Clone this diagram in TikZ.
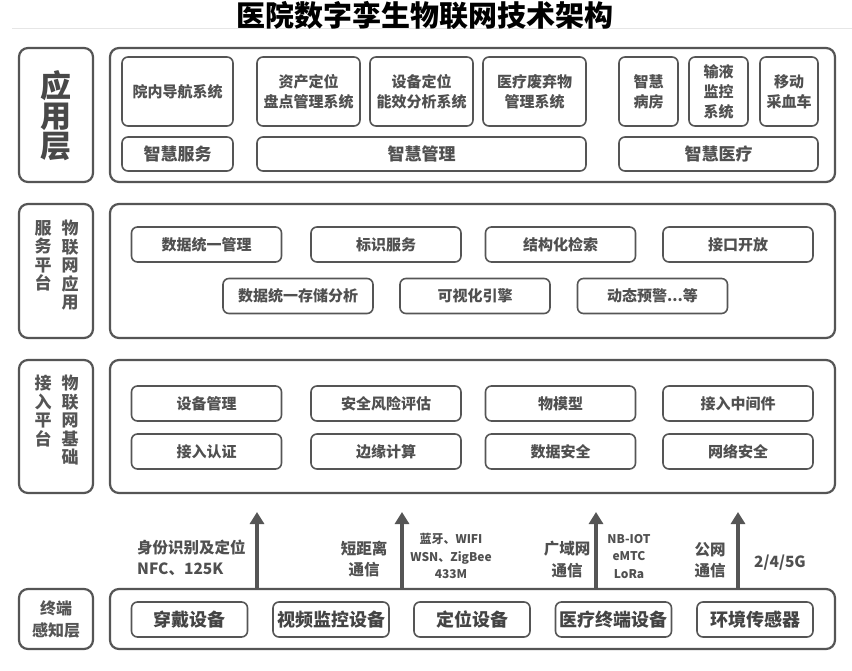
\documentclass[tikz,border=0pt]{standalone}
\usepackage{fontspec}
\setmainfont{Noto Sans CJK SC}
\usetikzlibrary{arrows.meta}
\definecolor{bc}{HTML}{555555}
\definecolor{tc}{HTML}{505050}
\definecolor{lc}{HTML}{E6E6E6}
\newcommand\fs[1]{\fontsize{#1}{#1}\selectfont}
\begin{document}
\begin{tikzpicture}[x=1pt,y=-1pt,
  outerbox/.style={draw=bc,line width=2.2pt,rounded corners=9pt,inner sep=0pt},
  labbox/.style={outerbox,text=bc,align=center},
  innerbox/.style={draw=bc,line width=1.6pt,rounded corners=6pt,inner sep=0pt,text=tc,align=center,
     font=\bfseries\fontsize{15}{20}\selectfont},
  apptop/.style={innerbox,minimum height=69pt},
  appbot/.style={innerbox,minimum height=34pt,font=\bfseries\fontsize{17}{20}\selectfont},
  svc/.style={innerbox,minimum height=35pt,minimum width=150pt},
  term/.style={innerbox,minimum height=35pt,minimum width=116pt,font=\bfseries\fontsize{18}{20}\selectfont,text=bc!80!black},
  vcol/.style={text=bc,align=center,inner sep=0pt,font=\bfseries\fontsize{17}{18.5}\selectfont,anchor=north},
  arr/.style={draw=bc,line width=3.5pt,-{Triangle[width=14pt,length=12pt]}},
  lbl/.style={text=tc,align=center,inner sep=0pt,font=\bfseries\fontsize{15.5}{21.5}\selectfont},
  slbl/.style={text=tc,align=center,inner sep=0pt,font=\bfseries\fontsize{12}{17.5}\selectfont}
]
\useasboundingbox[fill=white] (0,0) rectangle (852,670);
\draw[lc,line width=0.8pt] (12,28.5) -- (852,28.5);
\node[inner sep=0pt,font=\bfseries\fs{29}] (title) at (424.5,15) {医院数字孪生物联网技术架构};

% ---------- application layer
\node[labbox,minimum width=74pt,minimum height=134pt] (lab1) at (56,115) {};
\node[text=bc!85!black,align=center,inner sep=0pt,font=\bfseries\fontsize{31}{30}\selectfont] (lab1t) at (56,116) {应\\用\\层};
\node[outerbox,minimum width=725pt,minimum height=134pt] (main1) at (472.5,115) {};
\node[apptop,minimum width=111pt] (a1) at (177.5,91.5) {院内导航系统};
\node[apptop,minimum width=103pt] (a2) at (308.5,91.5) {资产定位\\盘点管理系统};
\node[apptop,minimum width=103pt] (a3) at (421.5,91.5) {设备定位\\能效分析系统};
\node[apptop,minimum width=103pt] (a4) at (534.5,91.5) {医疗废弃物\\管理系统};
\node[apptop,minimum width=59pt] (a5) at (648.5,91.5) {智慧\\病房};
\node[apptop,minimum width=59pt] (a6) at (718.5,91.5) {输液\\监控\\系统};
\node[apptop,minimum width=58pt] (a7) at (789,91.5) {移动\\采血车};
\node[appbot,minimum width=111pt] (b1) at (177.5,154) {智慧服务};
\node[appbot,minimum width=329pt] (b2) at (421.5,154) {智慧管理};
\node[appbot,minimum width=199pt] (b3) at (718.5,154) {智慧医疗};

% ---------- service layer
\node[labbox,minimum width=74pt,minimum height=134pt] (lab2) at (56,271) {};
\node[vcol] (lab2a) at (43,220) {服\\务\\平\\台};
\node[vcol] (lab2b) at (70,220) {物\\联\\网\\应\\用};
\node[outerbox,minimum width=725pt,minimum height=134pt] (main2) at (472.5,271) {};
\node[svc] (s1) at (206.5,244.5) {数据统一管理};
\node[svc] (s2) at (386,244.5) {标识服务};
\node[svc] (s3) at (560.5,244.5) {结构化检索};
\node[svc] (s4) at (738,244.5) {接口开放};
\node[svc] (s5) at (298,296) {数据统一存储分析};
\node[svc] (s6) at (475,296) {可视化引擎};
\node[svc] (s7) at (652.5,296) {动态预警...等};

% ---------- access layer
\node[labbox,minimum width=74pt,minimum height=133pt] (lab3) at (56,426.5) {};
\node[vcol] (lab3a) at (43,375) {接\\入\\平\\台};
\node[vcol] (lab3b) at (70,375) {物\\联\\网\\基\\础};
\node[outerbox,minimum width=725pt,minimum height=133pt] (main3) at (472.5,426.5) {};
\node[svc] (c1) at (206.5,403.5) {设备管理};
\node[svc] (c2) at (386,403.5) {安全风险评估};
\node[svc] (c3) at (560.5,403.5) {物模型};
\node[svc] (c4) at (738,403.5) {接入中间件};
\node[svc] (c5) at (206.5,451.5) {接入认证};
\node[svc] (c6) at (386,451.5) {边缘计算};
\node[svc] (c7) at (560.5,451.5) {数据安全};
\node[svc] (c8) at (738,451.5) {网络安全};

% ---------- terminal layer
\node[labbox,minimum width=74pt,minimum height=60pt,font=\bfseries\fontsize{16}{22}\selectfont] (lab4) at (56,619) {终端\\感知层};
\node[outerbox,minimum width=725pt,minimum height=60pt] (main4) at (472.5,619) {};
\node[term] (t1) at (189.5,619.5) {穿戴设备};
\node[term] (t2) at (331,619.5) {视频监控设备};
\node[term] (t3) at (472,619.5) {定位设备};
\node[term] (t4) at (613.5,619.5) {医疗终端设备};
\node[term] (t5) at (755,619.5) {环境传感器};

% ---------- arrows
\coordinate (p1) at (257,512);
\coordinate (p2) at (402,512);
\coordinate (p3) at (596,512);
\coordinate (p4) at (738,512);
\draw[arr] (p1 |- main4.north) -- (p1);
\draw[arr] (p2 |- main4.north) -- (p2);
\draw[arr] (p3 |- main4.north) -- (p3);
\draw[arr] (p4 |- main4.north) -- (p4);

% ---------- arrow labels
\node[lbl,align=left,anchor=west] (l1) at (137,558) {身份识别及定位\\NFC、125K};
\node[lbl] (l2) at (364,559) {短距离\\通信};
\node[slbl] (l3) at (451,556) {蓝牙、WIFI\\WSN、ZigBee\\433M};
\node[lbl] (l4) at (567,559.5) {广域网\\通信};
\node[slbl] (l5) at (629,556.5) {NB-IOT\\eMTC\\LoRa};
\node[lbl] (l6) at (710,560) {公网\\通信};
\node[lbl] (l7) at (780,563) {2/4/5G};
\end{tikzpicture}
\end{document}
